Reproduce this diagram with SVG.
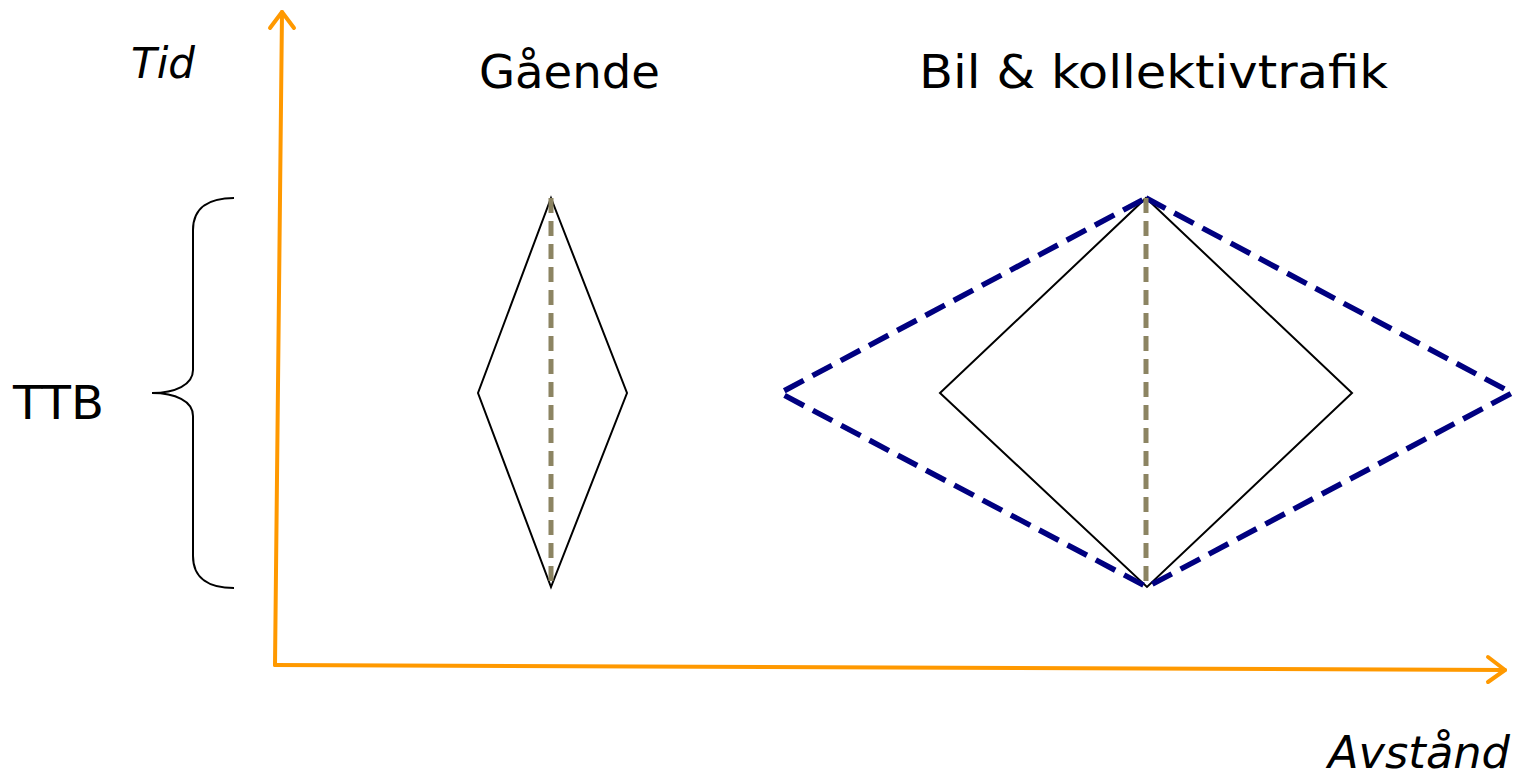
<svg xmlns="http://www.w3.org/2000/svg" width="1519" height="780" viewBox="0 0 1519 780">
<defs>
<style>
.t{font-family:"DejaVu Sans","Liberation Sans",sans-serif;fill:#000;}
.ax{stroke:#FF9900;stroke-width:4;fill:none;stroke-linecap:round;stroke-linejoin:round;}
.solid{stroke:#000;stroke-width:2;fill:none;}
.mid{stroke:#8C8462;stroke-width:5;stroke-dasharray:15 8;fill:none;}
.blue{stroke:#000080;stroke-width:5.5;stroke-dasharray:22 10;fill:none;}
</style>
</defs>
<rect width="1519" height="780" fill="#fff"/>
<g id="axes">
<line class="ax" x1="275" y1="665" x2="282" y2="12"/>
<polyline class="ax" points="270,28 282,12 294,28"/>
<line class="ax" x1="275" y1="665" x2="1505" y2="670"/>
<polyline class="ax" points="1488,657 1505,670 1488,682"/>
</g>
<g id="labels">
<text class="t" x="131" y="78" font-size="42" font-style="italic" textLength="64" lengthAdjust="spacingAndGlyphs">Tid</text>
<text class="t" x="479" y="88" font-size="46" textLength="181" lengthAdjust="spacingAndGlyphs">Gående</text>
<text class="t" x="919" y="88" font-size="46" textLength="469" lengthAdjust="spacingAndGlyphs">Bil &amp; kollektivtrafik</text>
<text class="t" x="13" y="419" font-size="46" textLength="91" lengthAdjust="spacingAndGlyphs">TTB</text>
<text class="t" x="1328" y="768" font-size="44" font-style="italic" textLength="182" lengthAdjust="spacingAndGlyphs">Avstånd</text>
</g>
<g id="brace">
<path class="solid" d="M234,198 C210,198 193,207 193,230 L193,370 C193,385 175,393 152,393 C175,393 193,401 193,416 L193,556 C193,579 210,588 234,588" stroke-width="2.8"/>
</g>
<g id="gaende">
<polygon class="solid" points="551,198 627,393 551,587 478,393"/>
<line class="mid" x1="551" y1="198" x2="551" y2="587"/>
</g>
<g id="bil">
<polygon class="solid" points="1146,198 1352,393 1147,587 940,393"/>
<polygon class="blue" points="1146,198 1512,393 1147,587 780,393"/>
<line class="mid" x1="1146" y1="198" x2="1146" y2="587"/>
</g>
</svg>
